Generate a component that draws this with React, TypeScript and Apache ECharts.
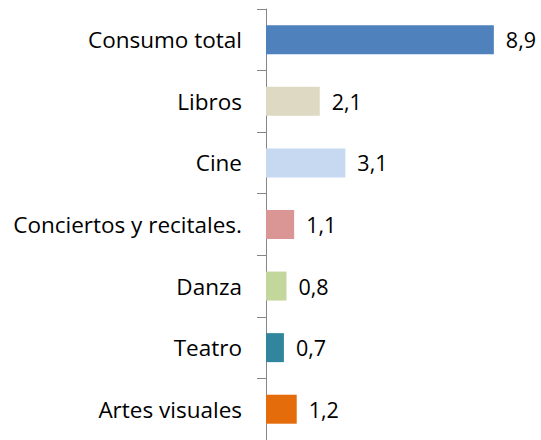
import React, { useEffect, useRef } from "react";
import * as echarts from "echarts";

const categories = [
  "Consumo total",
  "Libros",
  "Cine",
  "Conciertos y recitales.",
  "Danza",
  "Teatro",
  "Artes visuales",
];
const values = [8.9, 2.1, 3.1, 1.1, 0.8, 0.7, 1.2];
const colors = ["#4F81BD", "#DDD9C3", "#C6D9F1", "#D99694", "#C3D69B", "#31859C", "#E46C0A"];

const FONT = "'Open Sans', 'Noto Sans', sans-serif";

export default function App() {
  const ref = useRef<HTMLDivElement>(null);
  useEffect(() => {
    document.body.style.margin = "0";
    document.body.style.overflow = "hidden";
    if (!ref.current) return;
    const chart = echarts.init(ref.current, null, { renderer: "svg" });
    chart.setOption({
      animation: false,
      backgroundColor: "#ffffff",
      grid: { left: 266, right: 19, top: 9, bottom: -3, containLabel: false },
      xAxis: {
        type: "value",
        min: 0,
        max: 10,
        show: false,
      },
      yAxis: {
        type: "category",
        inverse: true,
        data: categories,
        axisLine: { show: true, lineStyle: { color: "#868686", width: 1 } },
        axisTick: { show: true, length: 9, lineStyle: { color: "#868686" } },
        axisLabel: {
          margin: 24,
          color: "#000000",
          fontSize: 22.5,
          fontFamily: FONT,
        },
      },
      series: [
        {
          type: "bar",
          data: values.map((v, i) => ({ value: v, itemStyle: { color: colors[i] } })),
          barWidth: 29,
          label: {
            show: true,
            position: "right",
            distance: 12,
            color: "#000000",
            fontSize: 21.5,
            fontFamily: FONT,
            formatter: (p: any) => String(p.value).replace(".", ","),
          },
        },
      ],
    });
    return () => chart.dispose();
  }, []);
  return <div ref={ref} style={{ width: 541, height: 440 }} />;
}
